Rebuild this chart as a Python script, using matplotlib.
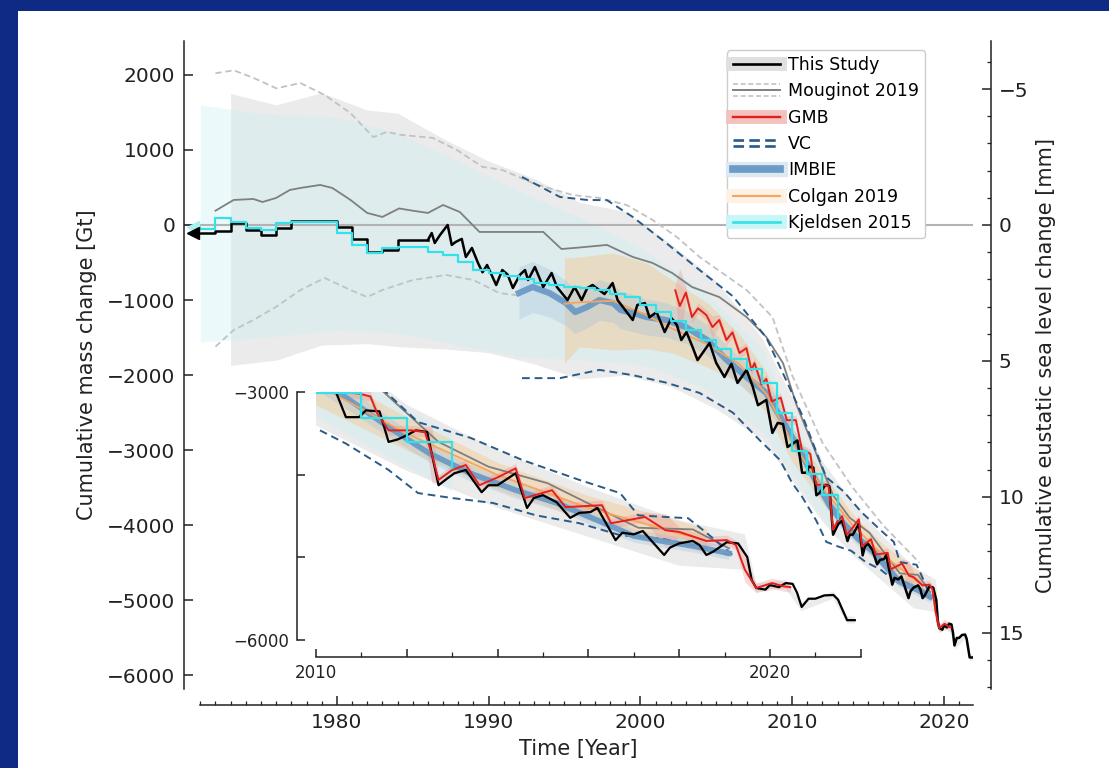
import matplotlib
matplotlib.use('Agg')
import numpy as np
import matplotlib.pyplot as plt
from matplotlib.lines import Line2D
from matplotlib.patches import Rectangle
from matplotlib.legend_handler import HandlerBase
from matplotlib.ticker import FixedLocator, FuncFormatter

# ---------------- data (cumulative mass change, Gt) ----------------
# This Study: annual steps before 1986, then seasonal record
ts_ann_years = [1970.5, 1972, 1973, 1974, 1975, 1976, 1977, 1980, 1981, 1982, 1983, 1984, 1986]
ts_ann_vals = [-111, -80, 31, -67, -133, -44, 53, -22, -191, -364, -333, -200, -200]

ts_years = [1986.0, 1986.25, 1986.45, 1986.8, 1987.3, 1987.57, 1987.83, 1988.23, 1988.5, 1988.9,
            1989.3, 1989.6, 1989.9, 1990.5, 1990.9, 1991.25, 1991.6, 1992.05, 1992.4, 1992.6,
            1993.05, 1993.6, 1994.15, 1994.5, 1995.2, 1995.67, 1996.13, 1996.5, 1996.85, 1997.64,
            1998.17, 1998.5, 1999.5, 1999.8, 2000.3, 2000.6, 2001.07, 2001.6, 2002.05, 2002.4,
            2002.7, 2003.04, 2003.44, 2003.77, 2004.1, 2004.56, 2005.0, 2005.54, 2006.0, 2006.4,
            2007.0, 2007.4, 2007.75, 2008.3, 2008.7, 2009.05, 2009.4, 2009.7, 2010.35, 2010.66,
            2010.95, 2011.1, 2011.4, 2011.6, 2011.8, 2012.0, 2012.2, 2012.45, 2012.55, 2012.7,
            2012.9, 2013.05, 2013.3, 2013.65, 2013.8, 2014.0, 2014.4, 2014.65, 2014.8, 2015.0,
            2015.3, 2015.6, 2015.8, 2016.05, 2016.2, 2016.6, 2016.75, 2017.0, 2017.2, 2017.67,
            2017.8, 2018.0, 2018.3, 2018.45, 2018.6, 2018.75, 2019.05, 2019.3, 2019.5, 2019.6,
            2019.7, 2019.9, 2020.0, 2020.2, 2020.35, 2020.5, 2020.6, 2020.7, 2020.85, 2021.0,
            2021.2, 2021.4, 2021.5, 2021.7, 2021.87]
ts_vals = [-200, -107, -240, -133, 0, -266, -226, -186, -426, -306,
           -506, -630, -533, -800, -600, -660, -840, -666, -600, -733,
           -560, -826, -640, -826, -1000, -826, -1000, -840, -800, -920,
           -773, -1000, -1266, -1066, -1040, -1230, -1160, -1426, -1240, -1330,
           -1532, -1426, -1626, -1800, -1705, -1572, -1838, -2025, -1850, -2104,
           -1930, -2150, -2400, -2330, -2770, -2637, -2650, -2957, -2870, -3300,
           -3300, -3218, -3230, -3600, -3570, -3520, -3460, -3480, -3740, -4125,
           -4040, -3980, -3940, -4210, -4125, -4125, -3980, -4400, -4280, -4245,
           -4330, -4520, -4460, -4450, -4400, -4790, -4700, -4720, -4680, -4970,
           -4880, -4830, -4800, -4850, -4970, -4930, -4815, -4830, -4995, -5275,
           -5370, -5390, -5335, -5360, -5310, -5320, -5430, -5600, -5500, -5500,
           -5460, -5455, -5510, -5760, -5760]

ts_band_years = [1973, 1976, 1979, 1982, 1984, 1987, 1990, 1993, 1996, 1999, 2002, 2005,
                 2008, 2010, 2012, 2014, 2016, 2018, 2019.45, 2019.7, 2020.35, 2020.7, 2021.4,
                 2021.7, 2021.87]
ts_band_up = [1750, 1600, 1760, 1530, 1490, 1150, 850, 620, 300, 180, -250, -750,
              -1500, -2300, -3150, -3700, -4150, -4550, -4720, -5320, -5270, -5550, -5410,
              -5710, -5720]
ts_band_lo = [-1870, -1800, -1600, -1580, -1620, -1650, -1700, -1850, -2050, -2000, -2150, -2450,
              -2850, -3400, -3950, -4400, -4750, -5100, -5150, -5420, -5380, -5650, -5500,
              -5800, -5800]

# Mouginot 2019
mo_years = [1972, 1973.2, 1974.5, 1975.1, 1976, 1976.9, 1977.6, 1978.9, 1979.7, 1980.9,
            1982, 1983, 1984.1, 1985, 1986, 1987, 1988.1, 1989.4, 1991.6, 1993.6,
            1994.8, 1996, 1997.8, 1999.5, 2000.8, 2002.1, 2003.4, 2005.2, 2007, 2008.3,
            2009.4, 2010.3, 2011.6, 2012.7, 2013.8, 2015.1, 2016.2, 2017.1, 2018.3, 2019.1]
mo_vals = [190, 333, 346, 306, 360, 466, 493, 533, 493, 333,
           160, 107, 220, 190, 160, 266, 173, -93, -93, -93,
           -320, -300, -266, -426, -506, -640, -826, -960, -1226, -1492,
           -1840, -2400, -3050, -3600, -3900, -4100, -4400, -4640, -4660, -4890]
mo_up_years = [1972, 1973.2, 1974.5, 1976, 1977.6, 1979.2, 1980.9, 1982.4, 1983.3, 1984.2,
               1986.3, 1987.9, 1989.6, 1990.9, 1993, 1995.5, 1997.3, 1999.1, 2000.8, 2002.4,
               2003.9, 2007, 2008.7, 2010, 2012, 2014, 2016, 2018.4]
mo_up = [2020, 2060, 1960, 1820, 1890, 1730, 1490, 1170, 1240, 1200,
         1160, 1000, 773, 733, 550, 400, 360, 266, 67, -160,
         -426, -866, -1226, -2000, -2900, -3500, -4000, -4500]
mo_lo_years = [1972, 1973.2, 1974.5, 1976, 1977.6, 1979.2, 1980.9, 1982, 1983, 1985,
               1987.2, 1989, 1990.7, 1992]
mo_lo = [-1620, -1400, -1265, -1090, -866, -706, -866, -960, -866, -733,
         -666, -733, -906, -940]

# GMB
gmb_years = [2002.3, 2002.6, 2003.0, 2003.4, 2003.8, 2004.35, 2004.75, 2005.2, 2005.67, 2006.07,
             2006.53, 2006.99, 2007.32, 2007.52, 2007.98, 2008.3, 2008.65, 2009.25, 2009.65, 2010.25,
             2010.65, 2010.95, 2011.2, 2011.35, 2011.6, 2012.1, 2012.4, 2012.55, 2012.7, 2013.0,
             2013.3, 2013.6, 2014.0, 2014.4, 2014.6, 2015.2, 2015.5, 2016.3, 2016.5, 2017.25,
             2017.7, 2018.0, 2018.6, 2019.05, 2019.25, 2019.45, 2019.7, 2020.05, 2020.3, 2020.45]
gmb_vals = [-870, -1080, -900, -1226, -1110, -1200, -1360, -1266, -1532, -1430,
            -1705, -1640, -1930, -1840, -2120, -2050, -2350, -2300, -2600, -2600,
            -3000, -3015, -3050, -3254, -3460, -3460, -3480, -3740, -4060, -3940,
            -3880, -4125, -4030, -3920, -4280, -4185, -4390, -4367, -4585, -4510,
            -4670, -4690, -4800, -4790, -4850, -5150, -5370, -5310, -5350, -5360]
gmb_err = [80, 500, 80, 70, 70, 70, 150, 70, 70, 70,
           70, 70, 70, 70, 70, 60, 60, 60, 60, 60,
           60, 60, 60, 60, 60, 60, 60, 350, 60, 60,
           60, 60, 60, 60, 60, 60, 60, 60, 60, 60,
           200, 60, 60, 60, 60, 150, 60, 60, 60, 60]

# VC (upper and lower curves)
vc_up_years = [1992.2, 1994.7, 1996.5, 1997.8, 1999.5, 2001.7, 2003.9, 2006.1, 2008.3, 2009.6,
               2010.7, 2011.55, 2012.25, 2013.4, 2014.55, 2015.8, 2016.7, 2017.1, 2018.2, 2018.6,
               2019.2]
vc_up = [640, 373, 333, 330, 107, -240, -600, -950, -1500, -2064,
         -2550, -3000, -3360, -3550, -3820, -4060, -4220, -4490, -4525, -4700,
         -4980]
vc_lo_years = [1992.2, 1994.7, 1997.3, 1999.5, 2001.7, 2003.9, 2006.1, 2007.85, 2009.2, 2010.0,
               2010.66, 2011.6, 2012.25, 2013.0, 2013.9, 2014.85, 2015.8, 2016.7, 2017.6, 2018.5,
               2019.1]
vc_lo = [-2040, -2040, -1930, -2000, -2100, -2237, -2500, -2864, -3130, -3435,
         -3620, -3940, -4220, -4280, -4340, -4490, -4585, -4730, -4770, -4875,
         -4970]

# IMBIE
imbie_years = [1992.0, 1992.9, 1994.0, 1995.1, 1995.7, 1996.5, 1997.3, 1998.2, 1998.7, 1999.5,
               2000.4, 2001.7, 2003.0, 2004.4, 2005.7, 2007.0, 2008.3, 2009.2, 2010.5, 2011.6,
               2012.5, 2013.4, 2014.4, 2015.3, 2016.2, 2017.0, 2017.6, 2018.3, 2019.1]
imbie_vals = [-906, -826, -906, -1040, -1160, -1092, -1000, -1040, -1133, -1172,
              -1226, -1266, -1360, -1532, -1800, -2025, -2237, -2550, -3000, -3420,
              -3740, -3980, -4185, -4340, -4550, -4740, -4800, -4860, -4950]
imbie_err = [350, 340, 320, 300, 290, 280, 270, 260, 250, 250,
             240, 230, 220, 200, 190, 180, 170, 160, 140, 120,
             110, 100, 100, 90, 90, 80, 80, 80, 80]

# Colgan 2019
colgan_years = [1995.0, 1996, 1998.2, 2000.4, 2002.1, 2004.5, 2006.5, 2008.3, 2010, 2012, 2014, 2016, 2018.6]
colgan_vals = [-1050, -1030, -1010, -1200, -1380, -1600, -1850, -2250, -2900, -3500, -4000, -4400, -4800]
colgan_up = [-440, -426, -373, -506, -733, -1050, -1450, -1950, -2700, -3300, -3850, -4250, -4650]
colgan_lo = [-1840, -1625, -1665, -1650, -1705, -1900, -2100, -2500, -3150, -3700, -4180, -4550, -4950]

# Kjeldsen 2015 (annual steps)
kj_years = [1970.5, 1971, 1972, 1973, 1974, 1975, 1976, 1977, 1980, 1981, 1982, 1983, 1984, 1986,
            1987, 1988, 1989, 1990, 1991, 1992, 1993, 1994, 1995, 1996, 1997, 1998, 1999, 2000,
            2001, 2002, 2003, 2004, 2005, 2006, 2007, 2008, 2009, 2010, 2011, 2012, 2013]
kj_vals = [-30, -60, 93, 40, -40, -67, 27, 40, -107, -266, -373, -306, -293, -360,
           -400, -493, -600, -640, -680, -720, -773, -800, -826, -840, -866, -920, -960, -1066,
           -1160, -1280, -1400, -1530, -1650, -1790, -1920, -2100, -2500, -3010, -3315, -3600, -3920]
kj_band_years = [1971, 1975, 1980, 1984, 1988, 1992, 1996, 2000, 2004, 2008, 2010, 2013]
kj_band_up = [1600, 1480, 1440, 1220, 850, 450, 100, -300, -850, -1650, -2600, -3500]
kj_band_lo = [-1560, -1500, -1400, -1440, -1600, -1750, -1800, -1850, -2150, -2750, -3300, -4200]

x_major = [1980, 1990, 2000, 2010, 2020]
x_minor = list(range(1971, 2022))
y_major = [2000, 1000, 0, -1000, -2000, -3000, -4000, -5000, -6000]
sl_major = [-5, 0, 5, 10, 15]
sl_minor = list(range(-6, 18))
in_x_major = [2010, 2012, 2014, 2016, 2018, 2020, 2022]
in_x_minor = [2011, 2013, 2015, 2017, 2019, 2021]
in_x_labels = [2010, 2020]
in_y_major = [-3000, -4000, -5000, -6000]
in_y_labels = [-3000, -6000]

GT_PER_MM = 362.0

BLACK = 'black'
RED = '#e2201c'
VCBLUE = '#2a5a85'
IMBIE_C = '#6b9bc6'
ORANGE = '#f7a55c'
CYAN = '#33e2e8'
MGRAY = '#7f7f7f'
DGRAY = '#c2c2c2'


def draw(a, k=1.0, bounds=True):
    g = np.array(gmb_vals)
    ge = np.array(gmb_err)
    im = np.array(imbie_vals)
    ie = np.array(imbie_err)
    a.fill_between(ts_band_years, ts_band_lo, ts_band_up, color='#ebebeb', lw=0, zorder=1)
    a.fill_between(kj_band_years, kj_band_lo, kj_band_up, color='#c6f0f4', alpha=0.35, lw=0, zorder=1.1)
    a.fill_between(colgan_years, colgan_lo, colgan_up, color='#f6c384', alpha=0.4, lw=0, zorder=1.2)
    a.fill_between(imbie_years, im - ie, im + ie, color='#9dbfdd', alpha=0.3, lw=0, zorder=1.3)
    a.fill_between(gmb_years, g - ge, g + ge, color='#f08a8a', alpha=0.3, lw=0, zorder=1.4)
    if bounds:
        a.plot(mo_up_years, mo_up, color=DGRAY, lw=1.3, dashes=(3.5, 2), zorder=2)
        a.plot(mo_lo_years, mo_lo, color=DGRAY, lw=1.3, dashes=(3.5, 2), zorder=2)
    a.plot(mo_years, mo_vals, color=MGRAY, lw=1.3, zorder=2.1)
    a.plot(vc_up_years, vc_up, color=VCBLUE, lw=1.4, dashes=(4, 2.5), zorder=2.2)
    a.plot(vc_lo_years, vc_lo, color=VCBLUE, lw=1.4, dashes=(4, 2.5), zorder=2.2)
    a.plot(imbie_years, imbie_vals, color=IMBIE_C, lw=4.5 * k, alpha=0.95, zorder=2.5)
    a.plot(colgan_years, colgan_vals, color=ORANGE, lw=1.3, zorder=2.6)
    a.plot(ts_ann_years, ts_ann_vals, color=BLACK, lw=1.8, drawstyle='steps-post', zorder=3)
    a.plot(ts_years, ts_vals, color=BLACK, lw=1.8 * k, zorder=3)
    a.plot(gmb_years, gmb_vals, color=RED, lw=1.4, zorder=3.2)
    a.plot(kj_years, kj_vals, color=CYAN, lw=1.6, drawstyle='steps-post', zorder=3.4)


class StackedLines(HandlerBase):
    def __init__(self, rows):
        super().__init__()
        self.rows = rows

    def create_artists(self, legend, orig_handle, xdescent, ydescent, width, height, fontsize, trans):
        y0 = height / 2.0 - ydescent
        out = []
        for dy, kw in self.rows:
            out.append(Line2D([-xdescent, width - xdescent], [y0 + dy, y0 + dy], transform=trans, **kw))
        return out


fig = plt.figure(figsize=(11.09, 7.68), dpi=100)
fig.patch.set_facecolor('#0f2a84')
fig.patches.append(Rectangle((0.0158, 0.0), 0.9842, 0.9857, transform=fig.transFigure,
                             facecolor='white', edgecolor='none', zorder=-10))

ax = fig.add_axes([0.16555, 0.10286, 0.71154, 0.84375])
ax.set_facecolor('none')
draw(ax)
ax.axhline(0, color='#b3b3b3', lw=1.5, zorder=1.5)
ax.plot(ts_ann_years[0], ts_ann_vals[0], marker='<', color=BLACK, ms=9, zorder=4, clip_on=False)
ax.plot(kj_years[0], kj_vals[0], marker='<', color='#a8f2f2', ms=9, zorder=3.9, clip_on=False)

ax.set_xlim(1969.9, 2021.9)
ax.set_ylim(-6180, 2450)
for s in ['top', 'right']:
    ax.spines[s].set_visible(False)
ax.spines['bottom'].set_position(('outward', 11.5))
ax.spines['bottom'].set_bounds(1971, 2021.9)
for s in ['left', 'bottom']:
    ax.spines[s].set_color('#222222')
    ax.spines[s].set_linewidth(1.1)
ax.xaxis.set_major_locator(FixedLocator(x_major))
ax.xaxis.set_minor_locator(FixedLocator(x_minor))
ax.yaxis.set_major_locator(FixedLocator(y_major))
ax.tick_params(which='both', direction='in', colors='#222222', labelsize=14.5)
ax.tick_params(which='major', length=6.5, width=1.1, pad=6)
ax.tick_params(which='minor', length=3, width=0.9)
ax.set_xlabel('Time [Year]', fontsize=15, labelpad=5, color='#222222')
ax.set_ylabel('Cumulative mass change [Gt]', fontsize=15, labelpad=7, color='#222222')

ax2 = ax.twinx()
ax2.set_ylim(6180 / GT_PER_MM, -2450 / GT_PER_MM)
for s in ['top', 'left', 'bottom']:
    ax2.spines[s].set_visible(False)
ax2.spines['right'].set_position(('outward', 13.5))
ax2.spines['right'].set_color('#222222')
ax2.spines['right'].set_linewidth(1.1)
ax2.yaxis.set_major_locator(FixedLocator(sl_major))
ax2.yaxis.set_minor_locator(FixedLocator(sl_minor))
ax2.tick_params(which='both', direction='in', colors='#222222', labelsize=14.5)
ax2.tick_params(which='major', length=6.5, width=1.1, pad=5)
ax2.tick_params(which='minor', length=3, width=0.9)
ax2.set_ylabel('Cumulative eustatic sea level change [mm]', fontsize=15, labelpad=6, color='#222222')

# legend
h_ts = (Line2D([], [], color='#e0e0e0', lw=10), Line2D([], [], color=BLACK, lw=1.9))
h_mo = Line2D([], [], color=MGRAY)
h_gmb = (Line2D([], [], color='#f4c2be', lw=10), Line2D([], [], color=RED, lw=1.7))
h_vc = Line2D([], [], color=VCBLUE)
h_im = (Line2D([], [], color='#dde8f2', lw=11), Line2D([], [], color=IMBIE_C, lw=5.5))
h_co = (Line2D([], [], color='#fdf1e5', lw=10), Line2D([], [], color=ORANGE, lw=1.5))
h_kj = (Line2D([], [], color='#c8f6f8', lw=10), Line2D([], [], color=CYAN, lw=1.9))
mo_rows = [(4.3, dict(color=DGRAY, lw=1.2, dashes=(3, 1.6))),
           (0.0, dict(color=MGRAY, lw=1.4)),
           (-4.3, dict(color=DGRAY, lw=1.2, dashes=(3, 1.6)))]
vc_rows = [(2.4, dict(color=VCBLUE, lw=1.9, dashes=(4, 2))),
           (-2.4, dict(color=VCBLUE, lw=1.9, dashes=(4, 2)))]
leg = ax.legend([h_ts, h_mo, h_gmb, h_vc, h_im, h_co, h_kj],
                ['This Study', 'Mouginot 2019', 'GMB', 'VC', 'IMBIE', 'Colgan 2019', 'Kjeldsen 2015'],
                handler_map={h_mo: StackedLines(mo_rows), h_vc: StackedLines(vc_rows)},
                loc='upper right', bbox_to_anchor=(0.94, 0.986), borderaxespad=0,
                fontsize=12.5, handlelength=2.7, labelspacing=0.48, borderpad=0.35,
                handletextpad=0.5, framealpha=1, edgecolor='#cccccc', fancybox=True)
leg.set_zorder(10)

# inset
axi = fig.add_axes([0.2849, 0.1667, 0.4912, 0.3229])
axi.set_facecolor('none')
draw(axi, k=0.9, bounds=False)
axi.set_xlim(2010, 2022)
axi.set_ylim(-6000, -2995)
for s in ['top', 'right']:
    axi.spines[s].set_visible(False)
axi.spines['left'].set_position(('outward', 14))
axi.spines['bottom'].set_position(('outward', 12))
axi.spines['left'].set_bounds(-6000, -3000)
axi.spines['bottom'].set_bounds(2010, 2022)
for s in ['left', 'bottom']:
    axi.spines[s].set_color('#222222')
    axi.spines[s].set_linewidth(1.1)
axi.xaxis.set_major_locator(FixedLocator(in_x_major))
axi.xaxis.set_minor_locator(FixedLocator(in_x_minor))
axi.yaxis.set_major_locator(FixedLocator(in_y_major))
axi.xaxis.set_major_formatter(FuncFormatter(lambda v, p: '%d' % v if int(round(v)) in in_x_labels else ''))
axi.yaxis.set_major_formatter(FuncFormatter(
    lambda v, p: ('%d' % v).replace('-', '\u2212') if int(round(v)) in in_y_labels else ''))
axi.tick_params(which='both', direction='in', colors='#222222', labelsize=12)
axi.tick_params(which='major', length=6, width=1.1, pad=5)
axi.tick_params(which='minor', length=3.5, width=0.9)

fig.savefig('out.png', dpi=100, facecolor=fig.get_facecolor())
